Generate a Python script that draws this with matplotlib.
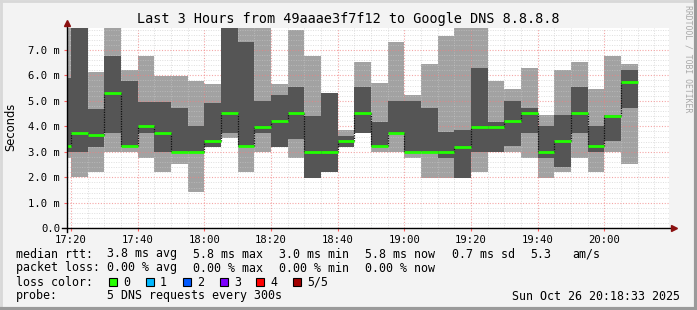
import matplotlib
matplotlib.use("Agg")
import matplotlib.pyplot as plt
from matplotlib.patches import Rectangle
from matplotlib.lines import Line2D

# ---------------- data ----------------
bar_starts = ["17:15", "17:20", "17:25", "17:30", "17:35", "17:40", "17:45", "17:50",
              "17:55", "18:00", "18:05", "18:10", "18:15", "18:20", "18:25", "18:30",
              "18:35", "18:40", "18:45", "18:50", "18:55", "19:00", "19:05", "19:10",
              "19:15", "19:20", "19:25", "19:30", "19:35", "19:40", "19:45", "19:50",
              "19:55", "20:00", "20:05"]
# sorted ping rtts per 5-minute bin, ms (p1=min ... p5=max)
ping_min = [2.77, 2.00, 2.19, 3.00, 3.00, 2.75, 2.19, 2.53, 1.42, 3.18, 3.54, 2.19,
            3.00, 3.18, 2.75, 1.97, 2.19, 3.18, 3.74, 3.00, 3.00, 2.75, 1.97, 1.97,
            1.97, 2.19, 3.00, 3.00, 2.75, 1.97, 2.19, 2.75, 2.19, 3.00, 2.53]
ping_p2 = [3.00, 3.00, 3.18, 3.74, 3.19, 3.74, 3.00, 3.00, 3.00, 3.18, 3.74, 3.21,
           3.74, 3.18, 3.51, 1.97, 2.19, 3.18, 3.74, 3.21, 3.74, 3.00, 3.00, 2.75,
           1.97, 3.00, 3.00, 3.21, 3.74, 2.75, 2.42, 3.74, 3.00, 3.41, 4.74]
ping_median = [3.22, 3.75, 3.66, 5.31, 3.21, 4.00, 3.75, 3.00, 3.00, 3.43, 4.52, 3.21,
               3.98, 4.21, 4.52, 3.00, 3.00, 3.42, 4.52, 3.21, 3.75, 3.00, 3.00, 3.00,
               3.20, 3.98, 3.98, 4.21, 4.52, 3.00, 3.43, 4.52, 3.21, 4.42, 5.75]
ping_p4 = [5.90, 8.20, 4.68, 6.75, 5.77, 4.97, 4.97, 4.74, 4.00, 4.90, 8.10, 7.30,
           4.98, 5.22, 5.53, 4.42, 5.31, 3.64, 5.53, 4.19, 4.98, 4.98, 4.74, 3.76,
           3.87, 6.28, 4.19, 4.98, 4.74, 4.00, 4.43, 5.53, 4.00, 4.43, 6.20]
ping_max = [8.30, 8.60, 6.12, 8.30, 6.20, 6.75, 5.98, 5.98, 5.77, 5.65, 8.50, 8.40,
            8.20, 5.65, 7.77, 6.75, 5.31, 3.87, 6.51, 5.69, 7.30, 5.22, 6.43, 7.54,
            8.30, 8.40, 5.77, 5.45, 6.28, 4.43, 6.20, 6.51, 5.45, 6.75, 6.43]

x_tick_labels = ["17:20", "17:40", "18:00", "18:20", "18:40", "19:00", "19:20", "19:40", "20:00"]
y_tick_values = [0, 1, 2, 3, 4, 5, 6, 7]
y_tick_labels = ["0.0", "1.0 m", "2.0 m", "3.0 m", "4.0 m", "5.0 m", "6.0 m", "7.0 m"]

title = "Last 3 Hours from 49aaae3f7f12 to Google DNS 8.8.8.8"
stats_rtt = ["median rtt:", "3.8 ms avg", "5.8 ms max", "3.0 ms min", "5.8 ms now",
             "0.7 ms sd", "5.3", "am/s"]
stats_loss = ["packet loss:", "0.00 % avg", "0.00 % max", "0.00 % min", "0.00 % now"]
loss_labels = ["0", "1", "2", "3", "4", "5/5"]
loss_colors = ["#26ff00", "#00b8ff", "#0059ff", "#7e00ff", "#ff0000", "#a10000"]
probe_text = "5 DNS requests every 300s"
date_text = "Sun Oct 26 20:18:33 2025"
bin_minutes = 5

# ---------------- helpers ----------------
def to_min(s):
    h, m = s.split(":")
    return (int(h) - 17) * 60 + int(m)

starts = [to_min(s) for s in bar_starts]
xt = [to_min(s) for s in x_tick_labels]

W, H = 697, 310
fig = plt.figure(figsize=(W / 100, H / 100), dpi=100)
fig.patch.set_facecolor("#f3f3f3")
mono = "DejaVu Sans Mono"

x0, x1 = 67, 669
ytop, ybot = 28, 228.3
ax = fig.add_axes([x0 / W, (H - ybot) / H, (x1 - x0) / W, (ybot - ytop) / H])
ax.set_facecolor("white")
ax.set_xlim(18.8, 199.4)
ax.set_ylim(0, 7.86)

light = "#a2a2a2"
dark = "#555555"
green = "#22ff00"

ax.bar(starts, [b - a for a, b in zip(ping_min, ping_max)], bottom=ping_min,
       width=bin_minutes, align="edge", color=light, linewidth=0, zorder=2)
ax.bar(starts, [b - a for a, b in zip(ping_p2, ping_p4)], bottom=ping_p2,
       width=bin_minutes, align="edge", color=dark, linewidth=0, zorder=3)
ax.hlines(ping_median, starts, [s + bin_minutes for s in starts], colors=green,
          linewidth=2.0, zorder=6)
ax.vlines(starts[1:], ping_median[:-1], ping_median[1:], colors="#111111",
          linestyles=(0, (1, 1)), linewidth=0.9, zorder=5)

# grid (drawn over the smoke, semi transparent)
ax.set_yticks(y_tick_values)
ax.set_yticks([v / 5 for v in range(0, 40)], minor=True)
ax.set_xticks(xt)
ax.set_xticks(list(range(20, 200, 5)), minor=True)
ax.grid(which="minor", color="#c8c8c8", linestyle=(0, (1, 1.5)), linewidth=0.7,
        alpha=0.6, zorder=4)
ax.grid(which="major", color="#f08080", linestyle=(0, (1, 1.5)), linewidth=0.8,
        alpha=0.7, zorder=4)
ax.set_axisbelow(False)

ax.set_xticklabels(x_tick_labels, fontfamily=mono, fontsize=7.6)
ax.set_yticklabels(y_tick_labels, fontfamily=mono, fontsize=7.6)
ax.tick_params(which="major", length=2, color="#ff6060", pad=3)
ax.tick_params(which="minor", length=0)
for sp in ax.spines.values():
    sp.set_visible(False)

# axis lines with arrows
ax.plot([-0.008, 1.006], [0, 0], transform=ax.transAxes, color="black", lw=1.0,
        clip_on=False, zorder=7)
ax.plot([0, 0], [-0.02, 1.01], transform=ax.transAxes, color="black", lw=1.0,
        clip_on=False, zorder=7)
ax.plot([1.009], [0], transform=ax.transAxes, marker=">", color="#8b1010", ms=4,
        clip_on=False, zorder=8)
ax.plot([0], [1.025], transform=ax.transAxes, marker="^", color="#8b1010", ms=4,
        clip_on=False, zorder=8)

# texts
fig.text(0.5, 1 - 19 / H, title, fontfamily=mono, fontsize=9.75, ha="center", va="center")
fig.text(10.5 / W, 1 - 127 / H, "Seconds", fontsize=8.3, rotation=90, ha="center",
         va="center", fontfamily="DejaVu Sans")
fig.text(688 / W, 1 - 59 / H, "RRDTOOL / TOBI OETIKER", fontfamily=mono, fontsize=5.9,
         rotation=270, ha="center", va="center", color="#a8a8a8")

def ftext(px, py, s, **kw):
    fig.text(px / W, 1 - py / H, s, fontfamily=mono, fontsize=8.4, va="center", **kw)

rtt_x = [16, 107, 193, 279, 365, 451.5, 530, 572]
for px, s in zip(rtt_x, stats_rtt):
    ftext(px, 254, s)
loss_x = [16, 107, 193, 279, 365]
for px, s in zip(loss_x, stats_loss):
    ftext(px, 268, s)
ftext(16, 282, "loss color:")
box_x = [108.5, 145.5, 182.5, 219.5, 256, 293]
for px, lab, col in zip(box_x, loss_labels, loss_colors):
    fig.patches.append(Rectangle((px / W, 1 - 286 / H), 8 / W, 8 / H,
                                 transform=fig.transFigure, facecolor=col,
                                 edgecolor="black", linewidth=0.8))
    ftext(px + 14.5, 282, lab)
ftext(16, 296, "probe:")
ftext(107, 296, probe_text)
ftext(680, 296, date_text, ha="right")

# outer frame
fig.add_artist(Line2D([0, 1], [1 - 1 / H, 1 - 1 / H], transform=fig.transFigure,
                      color="#d8d8d8", lw=2))
fig.add_artist(Line2D([1 / W, 1 / W], [0, 1], transform=fig.transFigure,
                      color="#d8d8d8", lw=2))
fig.add_artist(Line2D([0, 1], [1.5 / H, 1.5 / H], transform=fig.transFigure,
                      color="#9a9a9a", lw=3))
fig.add_artist(Line2D([1 - 1.5 / W, 1 - 1.5 / W], [0, 1], transform=fig.transFigure,
                      color="#9a9a9a", lw=3))

fig.savefig("out.png", dpi=100, facecolor=fig.get_facecolor())
